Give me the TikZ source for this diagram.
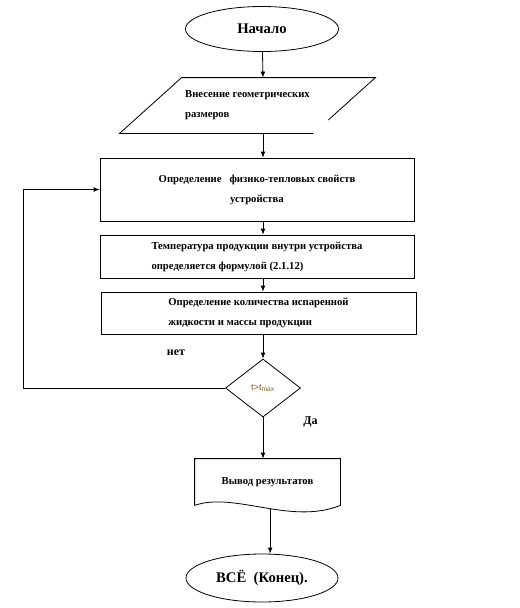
\documentclass[tikz,border=0pt]{standalone}
\usepackage{fontspec}
\setmainfont{Liberation Serif}
\setsansfont{Liberation Sans}
\usetikzlibrary{shapes.geometric,arrows.meta,calc}
\definecolor{usltext}{RGB}{130,95,35}
\begin{document}
\begin{tikzpicture}[x=0.75pt,y=-0.75pt,line width=0.6pt,
  tekst/.style={font=\bfseries\fontsize{8}{15}\selectfont},
  oval/.style={draw,ellipse,inner sep=0pt,font=\bfseries\fontsize{11}{13}\selectfont},
  blok/.style={draw,rectangle,inner sep=0pt,minimum width=235.5pt,tekst},
  romb/.style={draw,diamond,inner sep=0pt,aspect=1.3,minimum width=56.25pt,minimum height=43.5pt},
  metka/.style={font=\bfseries\fontsize{9}{11}\selectfont},
  strelka/.style={draw,-{Latex[length=4.5pt,width=3.6pt]}}]
\useasboundingbox (0,0) rectangle (520,608);
\node[oval,minimum width=114.75pt,minimum height=33.75pt] (nachalo) at (262,29) {Начало};
\node[tekst,inner sep=0pt,minimum width=191.25pt,minimum height=41.25pt,align=left] (vvod) at (247.5,105.5) {Внесение геометрических\\размеров};
\node[blok,minimum height=47.25pt,align=center] (svoistva) at (257,189.5) {Определение \ \ физико-тепловых свойств\\устройства};
\node[blok,minimum height=32.25pt,align=left] (temp) at (257,256.5) {Температура продукции внутри устройства\\определяется формулой (2.1.12)};
\node[blok,minimum height=31.5pt,minimum width=236.25pt,align=left] (massa) at (258.5,313) {Определение количества испаренной\\жидкости и массы продукции};
\node[romb,font=\sffamily\fontsize{7}{8}\selectfont,text=usltext] (usl) at (263,388) {t>t\textsubscript{max}};
\node[tekst,inner sep=0pt,minimum width=108.75pt,minimum height=34.5pt] (vyvod) at (267.5,482) {Вывод результатов};
\node[oval,minimum width=114pt,minimum height=36pt] (konec) at (262,578) {ВСЁ \ (Конец).};
\node[metka] (net) at (176,353) {нет};
\node[metka] (da) at (310.5,422) {Да};

% parallelogram with its open corner
\draw ($(vvod.north east)!0.76!([xshift=-46.5pt]vvod.south east)$) -- (vvod.north east) -- ([xshift=46.5pt]vvod.north west) -- (vvod.south west) -- ([xshift=-46.5pt]vvod.south east);
% document
\draw (vyvod.south west) |- (vyvod.north east) -- (vyvod.south east) .. controls +(-50,20) and +(40,-14) .. (vyvod.south west);

\path[strelka] (nachalo) -- (usl |- vvod.north);
\path[strelka] (usl |- vvod.south) -- (usl |- svoistva.north);
\path[strelka] (usl |- svoistva.south) -- (usl |- temp.north);
\path[strelka] (usl |- temp.south) -- (usl |- massa.north);
\path[strelka] (usl |- massa.south) -- (usl);
\path[strelka] (usl) -- (usl |- vyvod.north);
\coordinate (volna) at ([xshift=2pt,yshift=-2.5pt]vyvod.south);
\path[strelka] (volna) -- (volna |- konec.north);
\path[strelka] (usl.west) -| ([xshift=-57pt]svoistva.west) -- (svoistva.west);
\end{tikzpicture}
\end{document}
